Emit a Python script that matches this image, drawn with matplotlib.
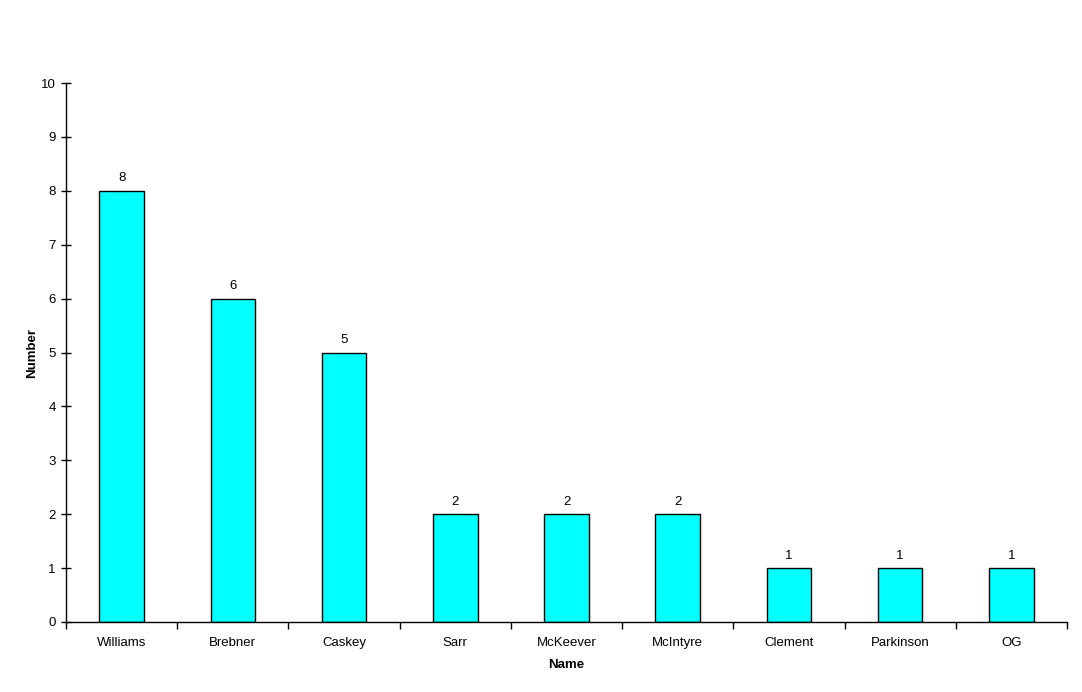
import matplotlib
matplotlib.use('Agg')
import matplotlib.pyplot as plt
import numpy as np

plt.rcParams['font.family'] = ['Liberation Sans', 'DejaVu Sans']

# data
names = ['Williams', 'Brebner', 'Caskey', 'Sarr', 'McKeever', 'McIntyre',
         'Clement', 'Parkinson', 'OG']
counts = [8, 6, 5, 2, 2, 2, 1, 1, 1]

fig = plt.figure(figsize=(10.82, 6.92), dpi=100)
ax = fig.add_axes([66 / 1082, 1 - 622 / 692, (1067 - 66) / 1082, (622 - 83) / 692])

x = np.arange(len(names))
bars = ax.bar(x, counts, width=0.4, color='#00FFFF', edgecolor='black', linewidth=1)
for b, v in zip(bars, counts):
    ax.text(b.get_x() + b.get_width() / 2, v + 0.12, str(v),
            ha='center', va='bottom', fontsize=9.5)

ax.set_xlim(-0.5, len(names) - 0.5)
ax.set_ylim(0, 10)
ax.set_yticks(range(0, 11))
ax.set_xticks(x)
ax.set_xticklabels(names, fontsize=9.5)
ax.tick_params(axis='x', length=0, pad=10.5)
ax.set_xticks(np.arange(-0.5, len(names)), minor=True)
ax.tick_params(axis='x', which='minor', length=5, direction='out', width=1)
ax.tick_params(axis='y', length=7, direction='inout', width=1, labelsize=9.5, pad=4)

for s in ['top', 'right']:
    ax.spines[s].set_visible(False)
ax.spines['left'].set_linewidth(1)
ax.spines['bottom'].set_linewidth(1)

ax.set_xlabel('Name', fontsize=9.5, fontweight='bold', labelpad=7.5)
ax.set_ylabel('Number', fontsize=9.5, fontweight='bold', labelpad=2)

fig.savefig('out.png', dpi=100)
